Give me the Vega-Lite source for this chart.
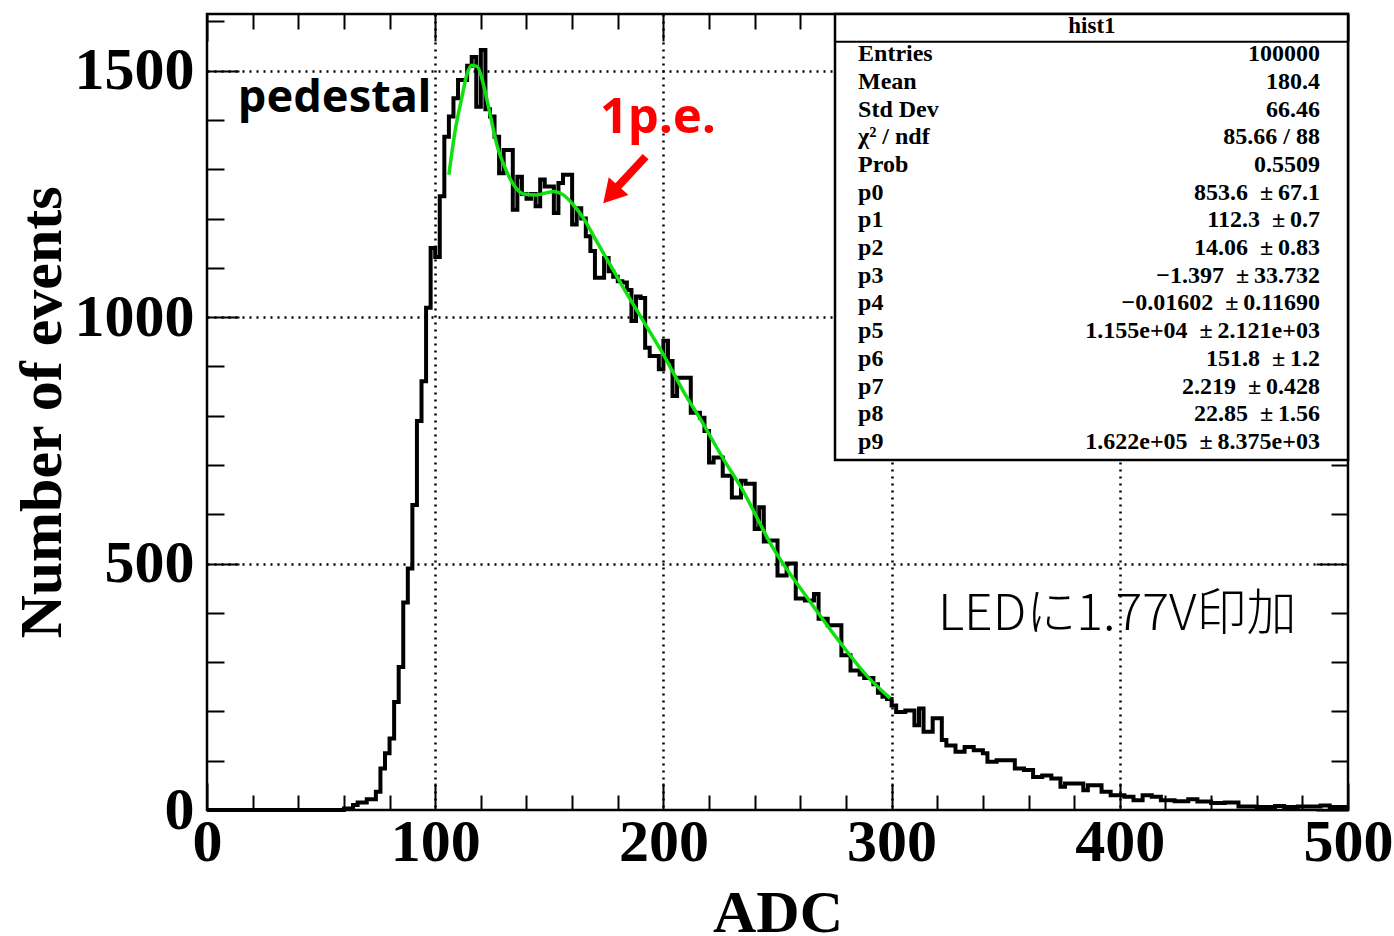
{
"$schema": "https://vega.github.io/schema/vega-lite/v6.json",
"width": 1141, "height": 796, "autosize": "none",
"padding": {"left": 207, "top": 14, "right": 46, "bottom": 126},
"background": "white",
"config": {
  "view": {"stroke": "black", "strokeWidth": 2.5},
  "axis": {"labelColor": "black", "titleColor": "black", "tickColor": "black", "tickWidth": 2, "domain": false,
    "gridColor": "black", "gridDash": [2, 5], "gridWidth": 2.5, "labelOverlap": false, "labelFlush": false,
    "labelFont": "Liberation Serif", "labelFontWeight": "bold", "labelFontSize": 60,
    "titleFont": "Liberation Serif", "titleFontWeight": "bold", "titleFontSize": 60}
},
"datasets": {
  "hist": [
    {"adc":0,"n":0},{"adc":2,"n":0},{"adc":4,"n":0},{"adc":6,"n":0},{"adc":8,"n":0},{"adc":10,"n":0},{"adc":12,"n":0},{"adc":14,"n":0},{"adc":16,"n":0},{"adc":18,"n":0},
    {"adc":20,"n":0},{"adc":22,"n":0},{"adc":24,"n":0},{"adc":26,"n":0},{"adc":28,"n":0},{"adc":30,"n":0},{"adc":32,"n":0},{"adc":34,"n":0},{"adc":36,"n":0},{"adc":38,"n":0},
    {"adc":40,"n":0},{"adc":42,"n":0},{"adc":44,"n":0},{"adc":46,"n":0},{"adc":48,"n":0},{"adc":50,"n":0},{"adc":52,"n":0},{"adc":54,"n":0},{"adc":56,"n":0},{"adc":58,"n":0},
    {"adc":60,"n":3},{"adc":62,"n":3},{"adc":64,"n":10},{"adc":66,"n":15},{"adc":68,"n":15},{"adc":70,"n":22},{"adc":72,"n":22},{"adc":74,"n":37},{"adc":76,"n":84},{"adc":78,"n":115},
    {"adc":80,"n":145},{"adc":82,"n":219},{"adc":84,"n":290},{"adc":86,"n":421},{"adc":88,"n":490},{"adc":90,"n":619},{"adc":92,"n":789},{"adc":94,"n":870},{"adc":96,"n":1019},{"adc":98,"n":1140},
    {"adc":100,"n":1122},{"adc":102,"n":1245},{"adc":104,"n":1366},{"adc":106,"n":1407},{"adc":108,"n":1444},{"adc":110,"n":1481},{"adc":112,"n":1481},{"adc":114,"n":1510},{"adc":116,"n":1528},{"adc":118,"n":1427},
    {"adc":120,"n":1542},{"adc":122,"n":1422},{"adc":124,"n":1407},{"adc":126,"n":1366},{"adc":128,"n":1292},{"adc":130,"n":1339},{"adc":132,"n":1339},{"adc":134,"n":1218},{"adc":136,"n":1285},{"adc":138,"n":1250},
    {"adc":140,"n":1240},{"adc":142,"n":1250},{"adc":144,"n":1225},{"adc":146,"n":1279},{"adc":148,"n":1265},{"adc":150,"n":1265},{"adc":152,"n":1211},{"adc":154,"n":1272},{"adc":156,"n":1289},{"adc":158,"n":1289},
    {"adc":160,"n":1188},{"adc":162,"n":1221},{"adc":164,"n":1200},{"adc":166,"n":1164},{"adc":168,"n":1134},{"adc":170,"n":1080},{"adc":172,"n":1080},{"adc":174,"n":1120},{"adc":176,"n":1093},{"adc":178,"n":1082},
    {"adc":180,"n":1073},{"adc":182,"n":1070},{"adc":184,"n":1055},{"adc":186,"n":992},{"adc":188,"n":1042},{"adc":190,"n":1039},{"adc":192,"n":938},{"adc":194,"n":921},{"adc":196,"n":921},{"adc":198,"n":894},
    {"adc":200,"n":952},{"adc":202,"n":911},{"adc":204,"n":840},{"adc":206,"n":877},{"adc":208,"n":877},{"adc":210,"n":877},{"adc":212,"n":806},{"adc":214,"n":806},{"adc":216,"n":796},{"adc":218,"n":769},
    {"adc":220,"n":705},{"adc":222,"n":715},{"adc":224,"n":715},{"adc":226,"n":678},{"adc":228,"n":678},{"adc":230,"n":634},{"adc":232,"n":634},{"adc":234,"n":668},{"adc":236,"n":662},{"adc":238,"n":662},
    {"adc":240,"n":570},{"adc":242,"n":614},{"adc":244,"n":545},{"adc":246,"n":547},{"adc":248,"n":547},{"adc":250,"n":476},{"adc":252,"n":476},{"adc":254,"n":500},{"adc":256,"n":500},{"adc":258,"n":429},
    {"adc":260,"n":429},{"adc":262,"n":425},{"adc":264,"n":425},{"adc":266,"n":438},{"adc":268,"n":388},{"adc":270,"n":388},{"adc":272,"n":375},{"adc":274,"n":375},{"adc":276,"n":375},{"adc":278,"n":314},
    {"adc":280,"n":314},{"adc":282,"n":283},{"adc":284,"n":283},{"adc":286,"n":275},{"adc":288,"n":268},{"adc":290,"n":268},{"adc":292,"n":255},{"adc":294,"n":238},{"adc":296,"n":230},{"adc":298,"n":225},
    {"adc":300,"n":212},{"adc":302,"n":199},{"adc":304,"n":199},{"adc":306,"n":202},{"adc":308,"n":202},{"adc":310,"n":172},{"adc":312,"n":206},{"adc":314,"n":159},{"adc":316,"n":159},{"adc":318,"n":186},
    {"adc":320,"n":186},{"adc":322,"n":142},{"adc":324,"n":131},{"adc":326,"n":131},{"adc":328,"n":118},{"adc":330,"n":118},{"adc":332,"n":128},{"adc":334,"n":128},{"adc":336,"n":121},{"adc":338,"n":121},
    {"adc":340,"n":115},{"adc":342,"n":98},{"adc":344,"n":98},{"adc":346,"n":101},{"adc":348,"n":101},{"adc":350,"n":101},{"adc":352,"n":101},{"adc":354,"n":84},{"adc":356,"n":84},{"adc":358,"n":81},
    {"adc":360,"n":81},{"adc":362,"n":67},{"adc":364,"n":67},{"adc":366,"n":70},{"adc":368,"n":70},{"adc":370,"n":64},{"adc":372,"n":64},{"adc":374,"n":47},{"adc":376,"n":54},{"adc":378,"n":54},
    {"adc":380,"n":54},{"adc":382,"n":54},{"adc":384,"n":40},{"adc":386,"n":50},{"adc":388,"n":50},{"adc":390,"n":50},{"adc":392,"n":37},{"adc":394,"n":37},{"adc":396,"n":30},{"adc":398,"n":30},
    {"adc":400,"n":30},{"adc":402,"n":27},{"adc":404,"n":27},{"adc":406,"n":20},{"adc":408,"n":20},{"adc":410,"n":30},{"adc":412,"n":30},{"adc":414,"n":27},{"adc":416,"n":27},{"adc":418,"n":20},
    {"adc":420,"n":20},{"adc":422,"n":20},{"adc":424,"n":18},{"adc":426,"n":18},{"adc":428,"n":18},{"adc":430,"n":22},{"adc":432,"n":22},{"adc":434,"n":17},{"adc":436,"n":17},{"adc":438,"n":17},
    {"adc":440,"n":14},{"adc":442,"n":14},{"adc":444,"n":14},{"adc":446,"n":15},{"adc":448,"n":15},{"adc":450,"n":15},{"adc":452,"n":7},{"adc":454,"n":7},{"adc":456,"n":7},{"adc":458,"n":7},
    {"adc":460,"n":6},{"adc":462,"n":6},{"adc":464,"n":6},{"adc":466,"n":6},{"adc":468,"n":8},{"adc":470,"n":8},{"adc":472,"n":6},{"adc":474,"n":6},{"adc":476,"n":6},{"adc":478,"n":7},
    {"adc":480,"n":7},{"adc":482,"n":7},{"adc":484,"n":7},{"adc":486,"n":7},{"adc":488,"n":9},{"adc":490,"n":9},{"adc":492,"n":6},{"adc":494,"n":6},{"adc":496,"n":6},{"adc":498,"n":6},
    {"adc":500,"n":6}
  ],
  "fit": [
    {"adc":106,"f":1289},{"adc":108.7,"f":1377},{"adc":111.6,"f":1444},{"adc":113.8,"f":1491},{"adc":116,"f":1511},{"adc":118.5,"f":1508},{"adc":121.2,"f":1471},{"adc":124.1,"f":1410},{"adc":127,"f":1350},{"adc":130.7,"f":1302},
    {"adc":134.3,"f":1269},{"adc":138.7,"f":1250},{"adc":144.5,"f":1248},{"adc":151.8,"f":1255},{"adc":156.1,"f":1248},{"adc":160.5,"f":1228},{"adc":164.9,"f":1201},{"adc":170,"f":1160},{"adc":173.7,"f":1130},{"adc":182.4,"f":1060},
    {"adc":191.2,"f":992},{"adc":200,"f":924},{"adc":208.7,"f":850},{"adc":217.5,"f":783},{"adc":226.3,"f":712},{"adc":233.6,"f":658},{"adc":248,"f":532},{"adc":262.8,"f":432},{"adc":277.4,"f":340},{"adc":290,"f":268},{"adc":299.3,"f":227}
  ],
  "stats": [
    {"row":1,"label":"Entries","value":"100000"},
    {"row":2,"label":"Mean","value":"180.4"},
    {"row":3,"label":"Std Dev","value":"66.46"},
    {"row":4,"label":"χ² / ndf","value":"85.66 / 88"},
    {"row":5,"label":"Prob","value":"0.5509"},
    {"row":6,"label":"p0","value":"853.6\u2002±\u200967.1"},
    {"row":7,"label":"p1","value":"112.3\u2002±\u20090.7"},
    {"row":8,"label":"p2","value":"14.06\u2002±\u20090.83"},
    {"row":9,"label":"p3","value":"−1.397\u2002±\u200933.732"},
    {"row":10,"label":"p4","value":"−0.01602\u2002±\u20090.11690"},
    {"row":11,"label":"p5","value":"1.155e+04\u2002±\u20092.121e+03"},
    {"row":12,"label":"p6","value":"151.8\u2002±\u20091.2"},
    {"row":13,"label":"p7","value":"2.219\u2002±\u20090.428"},
    {"row":14,"label":"p8","value":"22.85\u2002±\u20091.56"},
    {"row":15,"label":"p9","value":"1.622e+05\u2002±\u20098.375e+03"}
  ]
},
"layer": [
  {
    "data": {"name": "hist"},
    "mark": {"type": "line", "interpolate": "step-after", "color": "black", "strokeWidth": 4, "strokeJoin": "miter", "strokeCap": "butt"},
    "encoding": {
      "x": {"field": "adc", "type": "quantitative", "scale": {"domain": [0, 500], "nice": false, "zero": false},
        "axis": {"orient": "bottom", "values": [0,20,40,60,80,100,120,140,160,180,200,220,240,260,280,300,320,340,360,380,400,420,440,460,480,500],
          "labelExpr": "datum.value % 100 === 0 ? '' + datum.value : ''",
          "tickSize": {"condition": {"test": "datum.value % 100 === 0", "value": -27}, "value": -15},
          "grid": true,
          "gridOpacity": {"condition": {"test": "datum.value % 100 === 0 && datum.value > 0 && datum.value < 500", "value": 1}, "value": 0},
          "labelPadding": 30, "title": "ADC", "titleX": 570.5, "titleY": 121, "titleBaseline": "alphabetic", "titleAlign": "center"}},
      "y": {"field": "n", "type": "quantitative", "scale": {"domain": [0, 1615], "nice": false, "zero": false},
        "axis": {"orient": "left", "values": [0,100,200,300,400,500,600,700,800,900,1000,1100,1200,1300,1400,1500,1600],
          "labelExpr": "datum.value % 500 === 0 ? '' + datum.value : ''",
          "tickSize": {"condition": {"test": "datum.value % 500 === 0", "value": -32}, "value": -17},
          "grid": true,
          "gridOpacity": {"condition": {"test": "datum.value % 500 === 0 && datum.value > 0", "value": 1}, "value": 0},
          "labelPadding": 45, "title": "Number of events", "titleX": -147, "titleY": 398, "titleBaseline": "alphabetic", "titleAlign": "center", "titleAngle": -90}}
    }
  },
  {
    "data": {"name": "fit"},
    "mark": {"type": "line", "interpolate": "monotone", "color": "#10e010", "strokeWidth": 3.5},
    "encoding": {
      "x": {"field": "adc", "type": "quantitative",
        "axis": {"orient": "top", "values": [0,20,40,60,80,100,120,140,160,180,200,220,240,260,280,300,320,340,360,380,400,420,440,460,480,500],
          "labels": false, "grid": false, "title": null,
          "tickSize": {"condition": {"test": "datum.value % 100 === 0", "value": -27}, "value": -15}}},
      "y": {"field": "f", "type": "quantitative",
        "axis": {"orient": "right", "values": [0,100,200,300,400,500,600,700,800,900,1000,1100,1200,1300,1400,1500,1600],
          "labels": false, "grid": false, "title": null,
          "tickSize": {"condition": {"test": "datum.value % 500 === 0", "value": -32}, "value": -17}}}
    }
  },
  {
    "data": {"values": [{}]},
    "mark": {"type": "rect", "fill": "white", "stroke": "black", "strokeWidth": 2.5},
    "encoding": {
      "x": {"datum": 275.2, "type": "quantitative", "axis": null}, "x2": {"datum": 500},
      "y": {"datum": 710, "type": "quantitative", "axis": null}, "y2": {"datum": 1615}
    }
  },
  {
    "data": {"values": [{}]},
    "mark": {"type": "rule", "color": "black", "strokeWidth": 2},
    "encoding": {
      "x": {"datum": 275.2, "type": "quantitative", "axis": null}, "x2": {"datum": 500},
      "y": {"datum": 1558.8, "type": "quantitative", "axis": null}
    }
  },
  {
    "data": {"values": [{}]},
    "mark": {"type": "text", "font": "Liberation Serif", "fontWeight": "bold", "fontSize": 23, "align": "center", "baseline": "middle", "color": "black"},
    "encoding": {
      "x": {"datum": 387.8, "type": "quantitative", "axis": null},
      "y": {"datum": 1589.8, "type": "quantitative", "axis": null},
      "text": {"value": "hist1"}
    }
  },
  {
    "data": {"name": "stats"},
    "mark": {"type": "text", "font": "Liberation Serif", "fontWeight": "bold", "fontSize": 24, "align": "left", "baseline": "middle", "color": "black"},
    "encoding": {
      "x": {"datum": 285.3, "type": "quantitative", "axis": null},
      "y": {"datum": 1589.8, "type": "quantitative", "axis": null},
      "yOffset": {"field": "row", "type": "quantitative", "scale": {"domain": [0, 15], "range": [0, 415.5]}},
      "text": {"field": "label"}
    }
  },
  {
    "data": {"name": "stats"},
    "mark": {"type": "text", "font": "Liberation Serif", "fontWeight": "bold", "fontSize": 24, "align": "right", "baseline": "middle", "color": "black"},
    "encoding": {
      "x": {"datum": 487.7, "type": "quantitative", "axis": null},
      "y": {"datum": 1589.8, "type": "quantitative", "axis": null},
      "yOffset": {"field": "row", "type": "quantitative", "scale": {"domain": [0, 15], "range": [0, 415.5]}},
      "text": {"field": "value"}
    }
  },
  {
    "data": {"values": [{}]},
    "mark": {"type": "text", "font": "Noto Sans", "fontWeight": "bold", "fontSize": 45, "align": "left", "baseline": "alphabetic", "color": "black"},
    "encoding": {
      "x": {"datum": 13.6, "type": "quantitative", "axis": null},
      "y": {"datum": 1416.7, "type": "quantitative", "axis": null},
      "text": {"value": "pedestal"}
    }
  },
  {
    "data": {"values": [{}]},
    "mark": {"type": "text", "font": "Noto Sans", "fontWeight": "bold", "fontSize": 49, "align": "left", "baseline": "alphabetic", "color": "#ff0000"},
    "encoding": {
      "x": {"datum": 172.2, "type": "quantitative", "axis": null},
      "y": {"datum": 1374, "type": "quantitative", "axis": null},
      "text": {"value": "1p.e."}
    }
  },
  {
    "data": {"values": [{}]},
    "mark": {"type": "rule", "color": "#ff0000", "strokeWidth": 8, "strokeCap": "butt"},
    "encoding": {
      "x": {"datum": 192.2, "type": "quantitative", "axis": null}, "x2": {"datum": 178.3},
      "y": {"datum": 1325.6, "type": "quantitative", "axis": null}, "y2": {"datum": 1256.3}
    }
  },
  {
    "data": {"values": [{}]},
    "mark": {"type": "point", "shape": "triangle-up", "filled": true, "color": "#ff0000", "opacity": 1, "size": 700, "angle": 222},
    "encoding": {
      "x": {"datum": 177.0, "type": "quantitative", "axis": null},
      "y": {"datum": 1248.4, "type": "quantitative", "axis": null}
    }
  },
  {
    "data": {"values": [{}]},
    "mark": {"type": "text", "font": "Noto Sans CJK JP", "fontWeight": 300, "fontSize": 50, "align": "left", "baseline": "alphabetic", "color": "black"},
    "encoding": {
      "x": {"datum": 320.3, "type": "quantitative", "axis": null},
      "y": {"datum": 365.3, "type": "quantitative", "axis": null},
      "text": {"value": "LEDに1.77V印加"}
    }
  }
],
"resolve": {"axis": {"x": "independent", "y": "independent"}}
}
